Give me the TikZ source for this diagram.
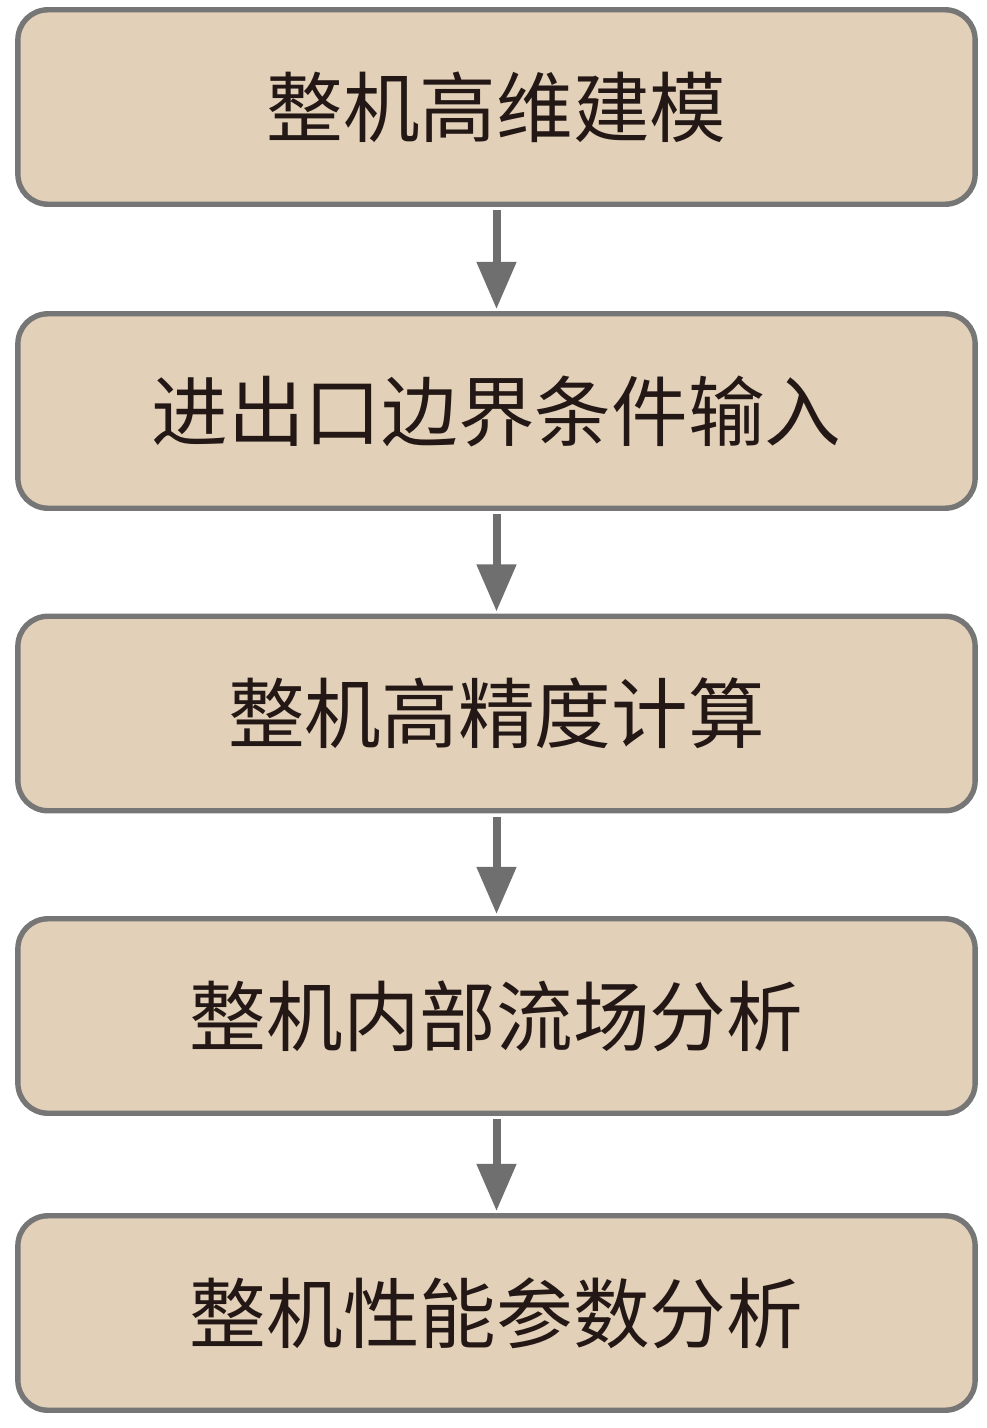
\documentclass[tikz,border=0pt]{standalone}
\usepackage{fontspec}
\newfontfamily\cjk{Noto Sans CJK SC}
\usetikzlibrary{arrows.meta}
\definecolor{boxfill}{RGB}{226,208,184}
\definecolor{boxline}{RGB}{118,118,118}
\definecolor{arrowgray}{RGB}{111,111,111}
\definecolor{txt}{RGB}{35,24,21}
\begin{document}
\begin{tikzpicture}[x=0.025cm, y=-0.025cm,
    stage/.style={draw=boxline, fill=boxfill, line width=0.135cm,
      rounded corners=0.75cm, minimum width=23.925cm, minimum height=4.86cm,
      inner sep=0pt, text=txt, font=\cjk\fontsize{54.5pt}{62pt}\selectfont},
    flow/.style={draw=arrowgray, line width=0.2cm,
      -{Triangle[length=1.18cm, width=0.95cm]},
      shorten <=0.08cm, shorten >=0.05cm}]

  \useasboundingbox (0,0) rectangle (987,1428);

  % 流程各步
  \node[stage] (model) at (496.5,107)  {整机高维建模};
  \node[stage] (bc)    at (496.5,411)  {进出口边界条件输入};
  \node[stage] (calc)  at (496.5,713.5){整机高精度计算};
  \node[stage] (field) at (496.5,1016) {整机内部流场分析};
  \node[stage] (perf)  at (496.5,1313) {整机性能参数分析};

  % 箭头
  \draw[flow] (model) -- (bc);
  \draw[flow] (bc) -- (calc);
  \draw[flow] (calc) -- (field);
  \draw[flow] (field) -- (perf);

\end{tikzpicture}
\end{document}
